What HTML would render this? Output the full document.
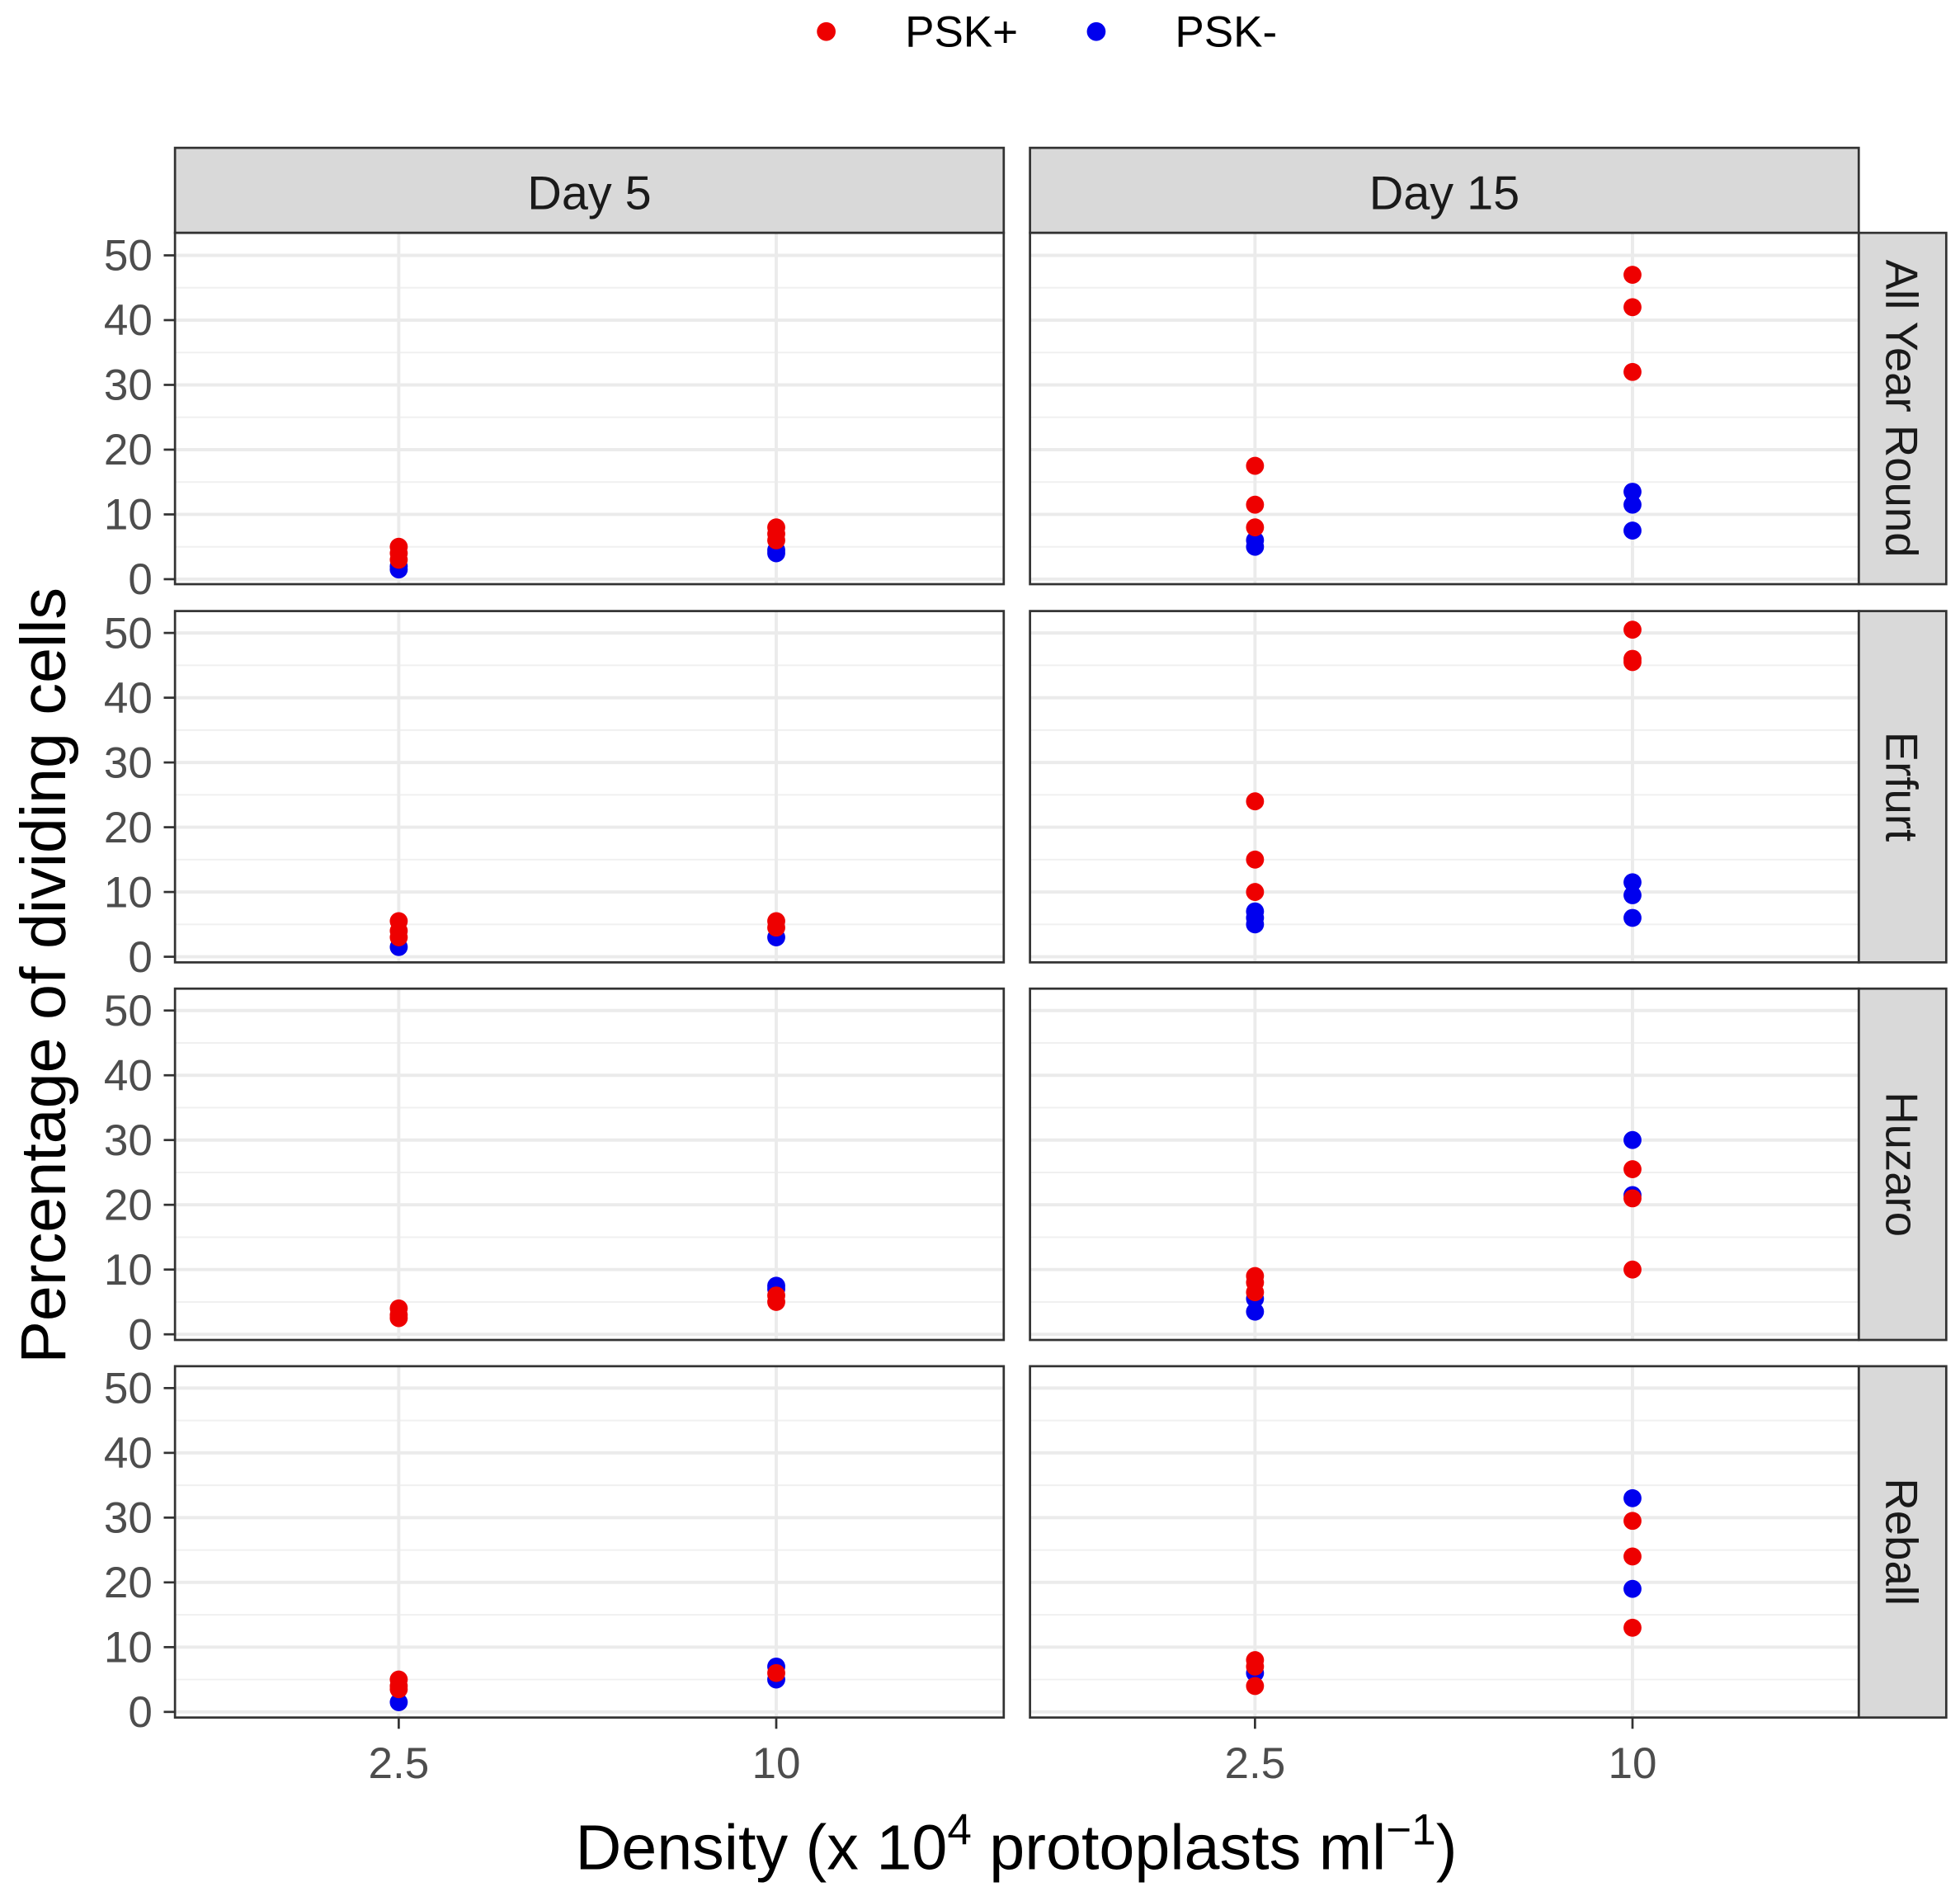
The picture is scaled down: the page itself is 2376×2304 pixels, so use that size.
<!DOCTYPE html>
<html><head><meta charset="utf-8"><style>
html,body{margin:0;padding:0;background:#fff;}
svg{display:block;font-family:"Liberation Sans","DejaVu Sans",sans-serif;}
</style></head><body>
<svg id="chart" width="2376" height="2304" viewBox="0 0 1568 1520" xmlns="http://www.w3.org/2000/svg"></svg>
<script>
const days = ["Day 5", "Day 15"];
const cultivars = ["All Year Round", "Erfurt", "Huzaro", "Reball"];
const xTicks = [2.5, 10];
const xTickLabels = ["2.5", "10"];
const yTicks = [0, 10, 20, 30, 40, 50];
const seriesNames = ["PSK+", "PSK-"];
// values: [cultivarIndex, dayIndex, density, percent]
const pskPlus = [
 [0,0,2.5,5],[0,0,2.5,4],[0,0,2.5,3],[0,0,10,8],[0,0,10,7],[0,0,10,6],
 [0,1,2.5,17.5],[0,1,2.5,11.5],[0,1,2.5,8],[0,1,10,47],[0,1,10,42],[0,1,10,32],
 [1,0,2.5,5.5],[1,0,2.5,4],[1,0,2.5,3],[1,0,10,5.5],[1,0,10,4.5],
 [1,1,2.5,24],[1,1,2.5,15],[1,1,2.5,10],[1,1,10,50.5],[1,1,10,46],[1,1,10,45.5],
 [2,0,2.5,4],[2,0,2.5,3],[2,0,2.5,2.5],[2,0,10,6],[2,0,10,5],
 [2,1,2.5,9],[2,1,2.5,8],[2,1,2.5,6.5],[2,1,10,25.5],[2,1,10,21],[2,1,10,10],
 [3,0,2.5,5],[3,0,2.5,4],[3,0,2.5,3.5],[3,0,10,6],
 [3,1,2.5,8],[3,1,2.5,7],[3,1,2.5,4],[3,1,10,29.5],[3,1,10,24],[3,1,10,13]
];
const pskMinus = [
 [0,0,2.5,1.5],[0,0,2.5,2],[0,0,10,4.5],[0,0,10,4],
 [0,1,2.5,6],[0,1,2.5,5],[0,1,10,13.5],[0,1,10,11.5],[0,1,10,7.5],
 [1,0,2.5,1.5],[1,0,10,3],
 [1,1,2.5,7],[1,1,2.5,6],[1,1,2.5,5],[1,1,10,11.5],[1,1,10,9.5],[1,1,10,6],
 [2,0,10,7.5],[2,0,10,7],
 [2,1,2.5,5.5],[2,1,2.5,3.5],[2,1,10,30],[2,1,10,21.5],
 [3,0,2.5,1.5],[3,0,10,7],[3,0,10,5],
 [3,1,2.5,6],[3,1,10,33],[3,1,10,19]
];

const NS="http://www.w3.org/2000/svg";
const svg=document.getElementById("chart");
function mk(tag,attrs,parent){const e=document.createElementNS(NS,tag);for(const k in attrs)e.setAttribute(k,attrs[k]);(parent||svg).appendChild(e);return e;}
const colLeft=[140,824], colW=663;
const rowTop=[186,488.5,790.5,1092.5], rowH=281;
function xScale(c,v){const x25=[319,1004][c];return x25+(v-2.5)*(302/7.5);}
function yScale(r,v){const y0=463+r*302;return y0-v*(259/50);}

// legend
const lg=mk("g",{});


[["#ee0000",661,724,seriesNames[0]],["#0000ee",877,940,seriesNames[1]]].forEach(([c,cx,tx,t],i)=>{
 const g=mk("g",{},lg);
 
 
 mk("circle",{cx:cx,cy:25,r:7.5,fill:c},g);
 const tt=mk("text",{x:tx,y:37,"font-size":35,fill:"#000"},g);tt.textContent=t;
});

// strips
days.forEach((d,c)=>{
 const g=mk("g",{});
 
 
 mk("rect",{x:colLeft[c],y:118,width:colW,height:68,fill:"#d9d9d9",stroke:"#333",  "stroke-width":1.8},g);
 const t=mk("text",{x:colLeft[c]+colW/2,y:167,"font-size":38,"text-anchor":"middle",fill:"#1a1a1a"},g);t.textContent=d;
});
cultivars.forEach((n,r)=>{
 const g=mk("g",{});
 
 
 mk("rect",{x:1487,y:rowTop[r],width:70,height:rowH,fill:"#d9d9d9",stroke:"#333","stroke-width":1.8},g);
 const cy=rowTop[r]+rowH/2;
 const t=mk("text",{x:1509,y:cy,"font-size":36,"text-anchor":"middle",fill:"#1a1a1a",transform:`rotate(90 1509 ${cy})`},g);t.textContent=n;
});

// panels
for(let r=0;r<4;r++)for(let c=0;c<2;c++){
 const g=mk("g",{});
 
 
 const x0=colLeft[c],y0=rowTop[r];
 mk("rect",{x:x0,y:y0,width:colW,height:rowH,fill:"#fff"},g);
 for(let v=5;v<=50;v+=10){const y=yScale(r,v);mk("line",{x1:x0,x2:x0+colW,y1:y,y2:y,stroke:"#f0f0f0","stroke-width":1.3},g);}
 yTicks.forEach(v=>{const y=yScale(r,v);mk("line",{x1:x0,x2:x0+colW,y1:y,y2:y,stroke:"#ebebeb","stroke-width":2.6},g);});
 xTicks.forEach(v=>{const x=xScale(c,v);mk("line",{x1:x,x2:x,y1:y0,y2:y0+rowH,stroke:"#ebebeb","stroke-width":2.6},g);});
 const fil=(d)=>d[0]===r&&d[1]===c;
 pskMinus.filter(fil).forEach(d=>{const p=mk("circle",{cx:xScale(c,d[2]),cy:yScale(r,d[3]),r:7.2,fill:"#0000ee"},g);
  
  });
 pskPlus.filter(fil).forEach(d=>{const p=mk("circle",{cx:xScale(c,d[2]),cy:yScale(r,d[3]),r:7.2,fill:"#ee0000"},g);
  
  });
 mk("rect",{x:x0,y:y0,width:colW,height:rowH,fill:"none",stroke:"#333","stroke-width":1.8},g);
 if(c===0){
  yTicks.forEach(v=>{const y=yScale(r,v);
   mk("line",{x1:131,x2:140,y1:y,y2:y,stroke:"#333","stroke-width":1.8},g);
   const t=mk("text",{x:122,y:y+12,"font-size":35,"text-anchor":"end",fill:"#4d4d4d"},g);t.textContent=String(v);});
 }
 if(r===3){
  xTicks.forEach((v,i)=>{const x=xScale(c,v);
   mk("line",{x1:x,x2:x,y1:y0+rowH,y2:y0+rowH+9,stroke:"#333","stroke-width":1.8},g);
   const t=mk("text",{x:x,y:1422,"font-size":35,"text-anchor":"middle",fill:"#4d4d4d"},g);t.textContent=xTickLabels[i];});
 }
}

// axis titles
const xt=mk("text",{x:813,y:1495,"font-size":51,"text-anchor":"middle",fill:"#000"});


xt.innerHTML='Density (x 10<tspan dy="-20" font-size="35">4</tspan><tspan dy="20"> protoplasts ml</tspan><tspan dy="-20" font-size="35">−1</tspan><tspan dy="20">)</tspan>';
const yt=mk("text",{x:52,y:780,"font-size":51,"text-anchor":"middle",fill:"#000",transform:"rotate(-90 52 780)"});


yt.textContent="Percentage of dividing cells";
</script>
</body></html>
